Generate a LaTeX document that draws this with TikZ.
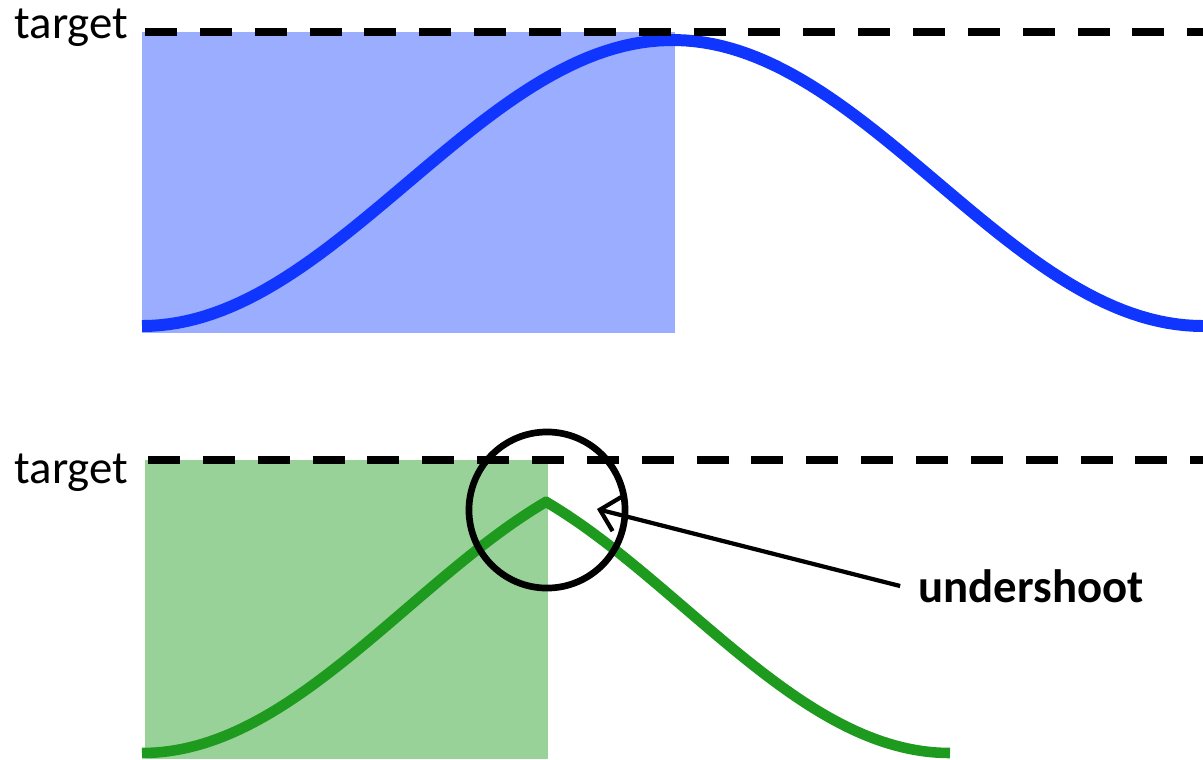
\documentclass[tikz,border=0pt]{standalone}
\usepackage{fontspec}
\setmainfont{Carlito}
\usetikzlibrary{arrows.meta}
\definecolor{skyfill}{HTML}{9BADFF}
\definecolor{skyline}{HTML}{0F35FF}
\definecolor{leaffill}{HTML}{99D299}
\definecolor{leafline}{HTML}{1E9B1E}
\tikzset{
  targetline/.style={line width=2.3pt,dash pattern=on 9.1pt off 6.5pt},
  lbl/.style={font=\fontsize{13.3}{15}\selectfont,anchor=base,inner sep=0pt}
}

\begin{document}
\begin{tikzpicture}[x=0.01cm,y=-0.01cm]
\useasboundingbox (0,0) rectangle (1203,759);
\fill[skyfill] (142,32) rectangle (675,333);
\draw[skyline,line width=3.4pt] plot[domain=142:1203,samples=120] (\x,{326-143*(1-cos(0.3393*(\x-142)))});
\draw[targetline] (145,32) -- (1203,32);
\node[lbl] (tgtA) at (71.5,38) {target};
\fill[leaffill] (145,460) rectangle (548,759);
\draw[leafline,line width=3pt] plot[domain=142:546,samples=60] (\x,{753-145*(1-cos(0.3393*(\x-142)))})
  -- plot[domain=546:950,samples=60] (\x,{753-145*(1-cos(0.3393*(950-\x)))});
\draw[targetline] (148,460) -- (1203,460);
\node[lbl] (tgtB) at (71.5,483) {target};
\node[circle,draw,line width=1.9pt,minimum size=1.56cm,inner sep=0pt] (ring) at (547,510) {};
\coordinate (tip) at (597,509);
\node[font=\fontsize{13.3}{15}\selectfont\bfseries,inner sep=5pt] (under) at (1031,586) {undershoot};
\draw[line width=1.2pt,-{Straight Barb[length=5pt,width=10pt]}] (under.west) -- (tip);
\end{tikzpicture}
\end{document}
